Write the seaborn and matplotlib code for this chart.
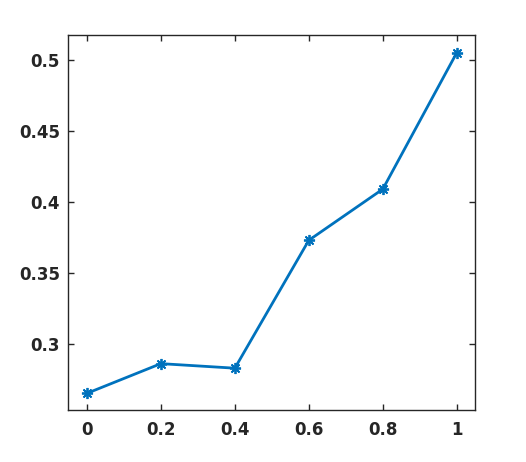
import matplotlib
matplotlib.use("Agg")
import matplotlib.pyplot as plt
import seaborn as sns
import pandas as pd

# values
x_vals = [0, 0.2, 0.4, 0.6, 0.8, 1.0]
y_vals = [0.2655, 0.2864, 0.2832, 0.3732, 0.4092, 0.5052]
x_ticks = [0, 0.2, 0.4, 0.6, 0.8, 1]
x_labels = ["0", "0.2", "0.4", "0.6", "0.8", "1"]
y_ticks = [0.3, 0.35, 0.4, 0.45, 0.5]
y_labels = ["0.3", "0.35", "0.4", "0.45", "0.5"]

df = pd.DataFrame({"x": x_vals, "y": y_vals})

sns.set_style("ticks")
plt.rcParams["font.family"] = ["DejaVu Sans"]

fig = plt.figure(figsize=(5.26, 4.62), dpi=100)
ax = fig.add_axes([0.13, 0.1126, 0.7736, 0.8116])

# matlab-style asterisk marker (8 arms)
sns.lineplot(data=df, x="x", y="y", ax=ax, color="#0072BD", linewidth=2.0,
             marker=(8, 2, 0), markersize=8, markeredgecolor="#0072BD",
             markeredgewidth=1.3)

ax.set_xlim(-0.05, 1.05)
ax.set_ylim(0.2538, 0.5176)
ax.set_xticks(x_ticks)
ax.set_xticklabels(x_labels, fontsize=12, fontweight="bold", color="#262626")
ax.set_yticks(y_ticks)
ax.set_yticklabels(y_labels, fontsize=12, fontweight="bold", color="#262626")
ax.set_xlabel("")
ax.set_ylabel("")

ax.tick_params(direction="in", length=4, width=1.0, top=True, right=True,
               color="#262626")
ax.tick_params(axis="y", pad=6)
ax.tick_params(axis="x", pad=8)
for side in ["top", "right", "bottom", "left"]:
    ax.spines[side].set_visible(True)
    ax.spines[side].set_linewidth(1.0)
    ax.spines[side].set_color("#262626")

fig.savefig("out.png", dpi=100)
